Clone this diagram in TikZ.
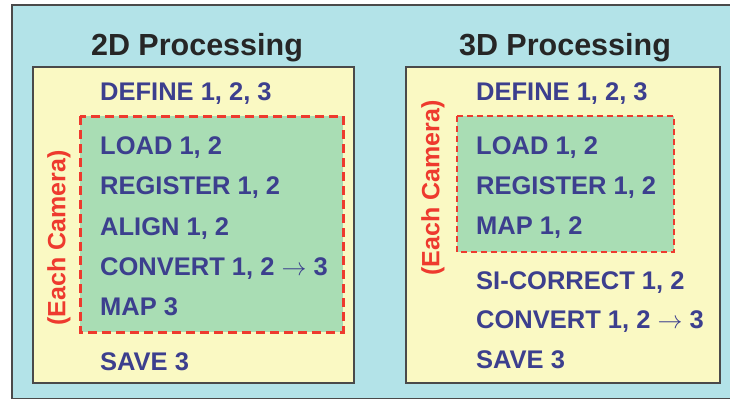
\documentclass[tikz,border=0pt]{standalone}
\usepackage{fontspec}
\setmainfont{Liberation Sans}
\definecolor{bgcyan}{HTML}{B3E3E8}
\definecolor{boxyellow}{HTML}{FAF9C3}
\definecolor{boxgreen}{HTML}{A9DDB4}
\definecolor{txtblue}{HTML}{3C3F8E}
\definecolor{dashred}{HTML}{EE3A2E}
\definecolor{framegray}{HTML}{4A4A4A}
\begin{document}
\begin{tikzpicture}[x=1pt,y=-1pt,
  stepitem/.style={anchor=base west,inner sep=0pt,text=txtblue,font=\fontsize{25.5}{28}\selectfont\bfseries},
  titletext/.style={anchor=base,inner sep=0pt,text=black!85,font=\fontsize{30.5}{34}\selectfont\bfseries},
  cameratext/.style={rotate=90,inner sep=0pt,text=dashred,font=\fontsize{25}{28}\selectfont\bfseries},
  panel/.style={draw=framegray,line width=2pt,fill=boxyellow},
  loopbox/.style={draw=dashred,fill=boxgreen},
]
\useasboundingbox (0,0) rectangle (730,400);
\clip (0,0) rectangle (730,400);
\fill[white] (0,0) rectangle (730,400);
\draw[draw=framegray,line width=1.5pt,fill=bgcyan] (12,5) rectangle (745,398.5);

% panels
\draw[panel] (33,67) rectangle (354,383);
\draw[panel] (406,67) rectangle (720,383);

% loop boxes
\draw[loopbox,line width=3pt,dash pattern=on 9pt off 5pt] (80,116) rectangle (343,332);
\draw[loopbox,line width=2pt,dash pattern=on 6pt off 4pt] (457,116) rectangle (674,252);

% titles
\node[titletext] (t2d) at (197,55) {2D Processing};
\node[titletext] (t3d) at (565,55) {3D Processing};

% rotated labels
\node[cameratext] (c2d) at (59,238) {(Each Camera)};
\node[cameratext] (c3d) at (433,188) {(Each Camera)};

% left column
\node[stepitem] (l1) at (100,100) {DEFINE 1, 2, 3};
\node[stepitem] (l2) at (100,154) {LOAD 1, 2};
\node[stepitem] (l3) at (100,194) {REGISTER 1, 2};
\node[stepitem] (l4) at (100,235) {ALIGN 1, 2};
\node[stepitem] (l5) at (100,275) {CONVERT 1, 2 $\rightarrow$ 3};
\node[stepitem] (l6) at (100,315) {MAP 3};
\node[stepitem] (l7) at (100,370) {SAVE 3};

% right column
\node[stepitem] (r1) at (476,100) {DEFINE 1, 2, 3};
\node[stepitem] (r2) at (476,154) {LOAD 1, 2};
\node[stepitem] (r3) at (476,194) {REGISTER 1, 2};
\node[stepitem] (r4) at (476,234) {MAP 1, 2};
\node[stepitem] (r5) at (476,289) {SI-CORRECT 1, 2};
\node[stepitem] (r6) at (476,328) {CONVERT 1, 2 $\rightarrow$ 3};
\node[stepitem] (r7) at (476,368) {SAVE 3};
\end{tikzpicture}
\end{document}
